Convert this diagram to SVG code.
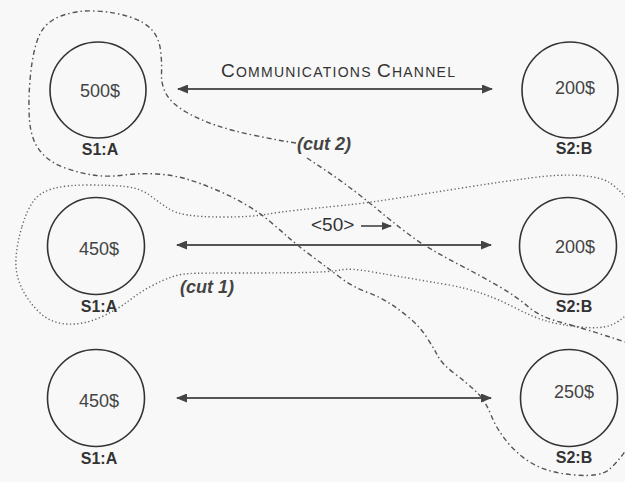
<svg xmlns="http://www.w3.org/2000/svg" width="625" height="482" viewBox="0 0 625 482">
  <style>
    .site { fill: none; stroke: #333; stroke-width: 1.6; }
    .amt { font-family: "Liberation Sans", Arial, sans-serif; font-size: 18px; fill: #444; text-anchor: middle; }
    .lbl { font-family: "Liberation Sans", Arial, sans-serif; font-size: 16px; font-weight: bold; fill: #333; text-anchor: middle; }
    .chan { stroke: #555; stroke-width: 2; fill: none; }
    .cutlbl { font-family: "Liberation Sans", Arial, sans-serif; font-size: 18px; font-style: italic; font-weight: bold; fill: #444; }
    .cut1 { fill: none; stroke: #666; stroke-width: 1.4; stroke-dasharray: 1.3 2.4; }
    .cut2 { fill: none; stroke: #555; stroke-width: 1.4; stroke-dasharray: 5 3 1.5 3; }
  </style>
  <defs>
    <marker id="head" markerUnits="userSpaceOnUse" markerWidth="12" markerHeight="9" refX="10" refY="4.5" orient="auto-start-reverse">
      <path d="M0,0 L11,4.5 L0,9 Z" fill="#444"/>
    </marker>
    <marker id="headSmall" markerUnits="userSpaceOnUse" markerWidth="11" markerHeight="8" refX="9" refY="4" orient="auto">
      <path d="M0,0 L10,4 L0,8 Z" fill="#444"/>
    </marker>
  </defs>

  <rect width="625" height="482" fill="#f8f8f8"/>

  <!-- consistent cuts -->
  <g id="cuts">
    <path id="cut1-line" class="cut1" d="M22,226.5 Q27,210 33.5,201 Q40,192 53.5,188.5 Q67,185 88.5,185 Q110,185 125,186.5 Q140,188 150,195.5 Q160,203 167.5,208 Q175,213 187.5,215 Q200,217 225,217 Q250,217 265,214.5 Q280,212 298.5,210 Q317,208 342,205.5 Q367,203 398.5,198 Q430,193 465,187.5 Q500,182 530,178 Q560,174 580,175.5 Q600,177 608.5,182 Q617,187 628,200 Q640,215 655,237 Q670,260 655,280 Q640,300 630,311 Q620,322 610,325.5 Q600,329 580,327 Q560,325 546.5,321 Q533,317 516.5,308.5 Q500,300 483.5,294 Q467,288 443.5,284 Q420,280 405,277.5 Q390,275 370,271.5 Q350,268 340,270 Q330,272 305,272.5 Q280,273 240,273 Q200,273 190,273.5 Q180,274 171.5,277 Q163,280 151.5,286 Q140,292 128.5,301 Q117,310 100,317.5 Q83,325 66.5,324 Q50,323 38.5,311.5 Q27,300 21,286.5 Q15,273 16,258 Q17,243 22,226.5 Z"/>
    <path id="cut2-loop" class="cut2" d="M296,143 L286.5,141.5 Q277,140 255,135.5 Q233,131 216.5,125.5 Q200,120 186,112 Q172,104 166.5,94.5 Q161,85 161.5,73.5 Q162,62 160.5,50 Q159,38 152,30 Q145,22 130,17 Q115,12 96,11 Q77,10 61,16 Q45,22 39,36 Q33,50 30.5,75 Q28,100 29.5,120 Q31,140 40.5,151.5 Q50,163 66.5,168.5 Q83,174 96.5,175.5 Q110,177 125,175 Q140,173 156.5,174 Q173,175 186.5,179 Q200,183 216.5,190 Q233,197 246.5,205 Q260,213 270,221.5 Q280,230 288.5,237.5 Q297,245 307,252.5 Q317,260 325,266 Q333,272 343,279.5 Q353,287 366.5,292 Q380,297 390,303.5 Q400,310 410,318.5 Q420,327 426.5,337 Q433,347 437.5,355.5 Q442,364 454.5,373.5 Q467,383 476,391.5 Q485,400 491,415 Q497,430 508.5,443.5 Q520,457 535,465 Q550,473 575,475 Q600,477 608.5,470 Q617,463 626,450"/>
    <path id="cut2-edge" class="cut2" d="M307,158 L323.5,169 Q340,180 355,191.5 Q370,203 380,211.5 Q390,220 405,231.5 Q420,243 435,251.5 Q450,260 466.5,268.5 Q483,277 500,287 Q517,297 528.5,307 Q540,317 561.5,322.5 Q583,328 628,343"/>
    <text class="cutlbl" x="297" y="150">(cut 2)</text>
    <text class="cutlbl" x="180" y="293">(cut 1)</text>
  </g>

  <!-- channels between the two sites -->
  <g id="connectors">
    <line class="chan" x1="178" y1="89" x2="492" y2="89" marker-start="url(#head)" marker-end="url(#head)"/>
    <line class="chan" x1="177" y1="245" x2="491" y2="245" marker-start="url(#head)" marker-end="url(#head)"/>
    <line class="chan" x1="177" y1="398" x2="491" y2="398" marker-start="url(#head)" marker-end="url(#head)"/>
    <text x="221" y="77" font-family="'Liberation Sans', Arial, sans-serif" fill="#333" textLength="234" lengthAdjust="spacing"><tspan font-size="19">C</tspan><tspan font-size="14">OMMUNICATIONS </tspan><tspan font-size="19">C</tspan><tspan font-size="14">HANNEL</tspan></text>
    <text x="311" y="231" font-family="'Liberation Sans', Arial, sans-serif" font-size="19" fill="#333">&lt;50&gt;</text>
    <line x1="361" y1="226" x2="391" y2="226" stroke="#444" stroke-width="1.6" marker-end="url(#headSmall)"/>
  </g>

  <!-- snapshot 1 -->
  <g id="s1a-1">
    <circle class="site" cx="98" cy="90" r="48"/>
    <text class="amt" x="100" y="97">500$</text>
    <text class="lbl" x="100" y="155">S1:A</text>
  </g>
  <g id="s2b-1">
    <circle class="site" cx="570" cy="90" r="48"/>
    <text class="amt" x="575" y="94">200$</text>
    <text class="lbl" x="574" y="154">S2:B</text>
  </g>

  <!-- snapshot 2 -->
  <g id="s1a-2">
    <circle class="site" cx="96" cy="246" r="48.5"/>
    <text class="amt" x="99" y="255">450$</text>
    <text class="lbl" x="99" y="312">S1:A</text>
  </g>
  <g id="s2b-2">
    <circle class="site" cx="568" cy="246" r="48.5"/>
    <text class="amt" x="575" y="253">200$</text>
    <text class="lbl" x="574" y="312">S2:B</text>
  </g>

  <!-- snapshot 3 -->
  <g id="s1a-3">
    <circle class="site" cx="96" cy="398" r="48.5"/>
    <text class="amt" x="99" y="407">450$</text>
    <text class="lbl" x="99" y="464">S1:A</text>
  </g>
  <g id="s2b-3">
    <circle class="site" cx="569" cy="398" r="48.5"/>
    <text class="amt" x="574" y="398">250$</text>
    <text class="lbl" x="574" y="463">S2:B</text>
  </g>
</svg>
